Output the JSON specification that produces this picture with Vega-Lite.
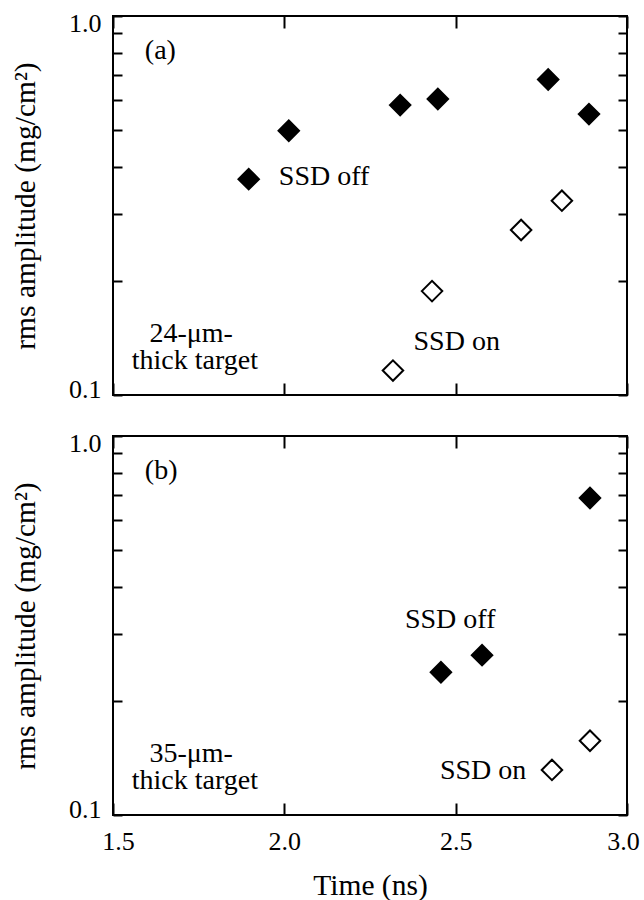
{
  "$schema": "https://vega.github.io/schema/vega-lite/v6.json",
  "background": "white",
  "padding": {"left": 9, "top": 9, "right": 0, "bottom": 0},
  "datasets": {
    "a_points": [
      {"time": 1.896, "rms": 0.371, "ssd": "off"},
      {"time": 2.013, "rms": 0.498, "ssd": "off"},
      {"time": 2.338, "rms": 0.582, "ssd": "off"},
      {"time": 2.448, "rms": 0.604, "ssd": "off"},
      {"time": 2.770, "rms": 0.680, "ssd": "off"},
      {"time": 2.889, "rms": 0.551, "ssd": "off"},
      {"time": 2.317, "rms": 0.116, "ssd": "on"},
      {"time": 2.431, "rms": 0.188, "ssd": "on"},
      {"time": 2.691, "rms": 0.2725, "ssd": "on"},
      {"time": 2.810, "rms": 0.3256, "ssd": "on"}
    ],
    "a_left_text": [
      {"time": 1.593, "rms": 0.806, "label": "(a)"},
      {"time": 1.984, "rms": 0.377, "label": "SSD off"},
      {"time": 2.377, "rms": 0.1376, "label": "SSD on"}
    ],
    "a_center_text": [
      {"time": 1.728, "rms": 0.138, "label": "24-μm-"},
      {"time": 1.739, "rms": 0.117, "label": "thick target"}
    ],
    "b_points": [
      {"time": 2.457, "rms": 0.238, "ssd": "off"},
      {"time": 2.577, "rms": 0.264, "ssd": "off"},
      {"time": 2.892, "rms": 0.686, "ssd": "off"},
      {"time": 2.781, "rms": 0.1315, "ssd": "on"},
      {"time": 2.892, "rms": 0.157, "ssd": "on"}
    ],
    "b_left_text": [
      {"time": 1.593, "rms": 0.806, "label": "(b)"},
      {"time": 2.352, "rms": 0.327, "label": "SSD off"},
      {"time": 2.454, "rms": 0.131, "label": "SSD on"}
    ],
    "b_center_text": [
      {"time": 1.728, "rms": 0.138, "label": "35-μm-"},
      {"time": 1.739, "rms": 0.117, "label": "thick target"}
    ]
  },
  "vconcat": [
    {
      "width": 514,
      "height": 379,
      "layer": [
        {
          "data": {"name": "a_points"},
          "mark": {"type": "point", "shape": "diamond", "size": 420, "filled": true, "stroke": "black", "strokeWidth": 2, "opacity": 1},
          "encoding": {
            "x": {"field": "time", "type": "quantitative", "scale": {"domain": [1.5, 3.0], "zero": false, "nice": false},
              "axis": {"orient": "bottom", "values": [1.5, 2.0, 2.5, 3.0], "labels": false, "tickSize": -12, "title": null}},
            "y": {"field": "rms", "type": "quantitative", "scale": {"type": "log", "domain": [0.1, 1.0], "nice": false},
              "axis": {"orient": "left", "values": [0.1, 0.2, 0.3, 0.4, 0.5, 0.6, 0.7, 0.8, 0.9, 1.0],
                "labelExpr": "datum.value == 0.1 ? '0.1' : (datum.value == 1 ? '1.0' : '')",
                "labelOffset": {"condition": {"test": "datum.value == 1", "value": 7}, "value": -6},
                "tickSize": -9, "labelPadding": 21, "title": "rms amplitude (mg/cm²)", "titlePadding": 28}},
            "fill": {"field": "ssd", "type": "nominal", "scale": {"domain": ["off", "on"], "range": ["black", "white"]}, "legend": null}
          }
        },
        {
          "data": {"name": "a_left_text"},
          "mark": {"type": "text", "align": "left", "baseline": "middle", "font": "Liberation Serif", "fontSize": 28, "color": "black"},
          "encoding": {
            "x": {"field": "time", "type": "quantitative",
              "axis": {"orient": "top", "values": [1.5, 2.0, 2.5, 3.0], "labels": false, "tickSize": -12, "title": null}},
            "y": {"field": "rms", "type": "quantitative",
              "axis": {"orient": "right", "values": [0.1, 0.2, 0.3, 0.4, 0.5, 0.6, 0.7, 0.8, 0.9, 1.0], "labels": false, "tickSize": -9, "title": null}},
            "text": {"field": "label"}
          }
        },
        {
          "data": {"name": "a_center_text"},
          "mark": {"type": "text", "align": "center", "baseline": "alphabetic", "font": "Liberation Serif", "fontSize": 28, "color": "black"},
          "encoding": {
            "x": {"field": "time", "type": "quantitative", "axis": null},
            "y": {"field": "rms", "type": "quantitative", "axis": null},
            "text": {"field": "label"}
          }
        }
      ],
      "resolve": {"axis": {"x": "independent", "y": "independent"}}
    },
    {
      "width": 514,
      "height": 379,
      "layer": [
        {
          "data": {"name": "b_points"},
          "mark": {"type": "point", "shape": "diamond", "size": 420, "filled": true, "stroke": "black", "strokeWidth": 2, "opacity": 1},
          "encoding": {
            "x": {"field": "time", "type": "quantitative", "scale": {"domain": [1.5, 3.0], "zero": false, "nice": false},
              "axis": {"orient": "bottom", "values": [1.5, 2.0, 2.5, 3.0], "format": ".1f", "tickSize": -12, "labelPadding": 25,
                "labelOffset": {"condition": [{"test": "datum.value == 1.5", "value": 5}, {"test": "datum.value == 3", "value": -4}], "value": 0},
                "title": "Time (ns)", "titlePadding": 17}},
            "y": {"field": "rms", "type": "quantitative", "scale": {"type": "log", "domain": [0.1, 1.0], "nice": false},
              "axis": {"orient": "left", "values": [0.1, 0.2, 0.3, 0.4, 0.5, 0.6, 0.7, 0.8, 0.9, 1.0],
                "labelExpr": "datum.value == 0.1 ? '0.1' : (datum.value == 1 ? '1.0' : '')",
                "labelOffset": {"condition": {"test": "datum.value == 1", "value": 7}, "value": -6},
                "tickSize": -9, "labelPadding": 21, "title": "rms amplitude (mg/cm²)", "titlePadding": 28}},
            "fill": {"field": "ssd", "type": "nominal", "scale": {"domain": ["off", "on"], "range": ["black", "white"]}, "legend": null}
          }
        },
        {
          "data": {"name": "b_left_text"},
          "mark": {"type": "text", "align": "left", "baseline": "middle", "font": "Liberation Serif", "fontSize": 28, "color": "black"},
          "encoding": {
            "x": {"field": "time", "type": "quantitative",
              "axis": {"orient": "top", "values": [1.5, 2.0, 2.5, 3.0], "labels": false, "tickSize": -12, "title": null}},
            "y": {"field": "rms", "type": "quantitative",
              "axis": {"orient": "right", "values": [0.1, 0.2, 0.3, 0.4, 0.5, 0.6, 0.7, 0.8, 0.9, 1.0], "labels": false, "tickSize": -9, "title": null}},
            "text": {"field": "label"}
          }
        },
        {
          "data": {"name": "b_center_text"},
          "mark": {"type": "text", "align": "center", "baseline": "alphabetic", "font": "Liberation Serif", "fontSize": 28, "color": "black"},
          "encoding": {
            "x": {"field": "time", "type": "quantitative", "axis": null},
            "y": {"field": "rms", "type": "quantitative", "axis": null},
            "text": {"field": "label"}
          }
        }
      ],
      "resolve": {"axis": {"x": "independent", "y": "independent"}}
    }
  ],
  "spacing": 41,
  "bounds": "flush",
  "config": {
    "view": {"stroke": "black", "strokeWidth": 2},
    "axis": {
      "domain": false, "grid": false,
      "tickColor": "black", "tickWidth": 2,
      "labelColor": "black", "labelFont": "Liberation Serif", "labelFontSize": 26,
      "labelOverlap": false, "labelFlush": false,
      "titleFont": "Liberation Serif", "titleFontSize": 29.5, "titleFontWeight": "normal", "titleColor": "black"
    }
  }
}
